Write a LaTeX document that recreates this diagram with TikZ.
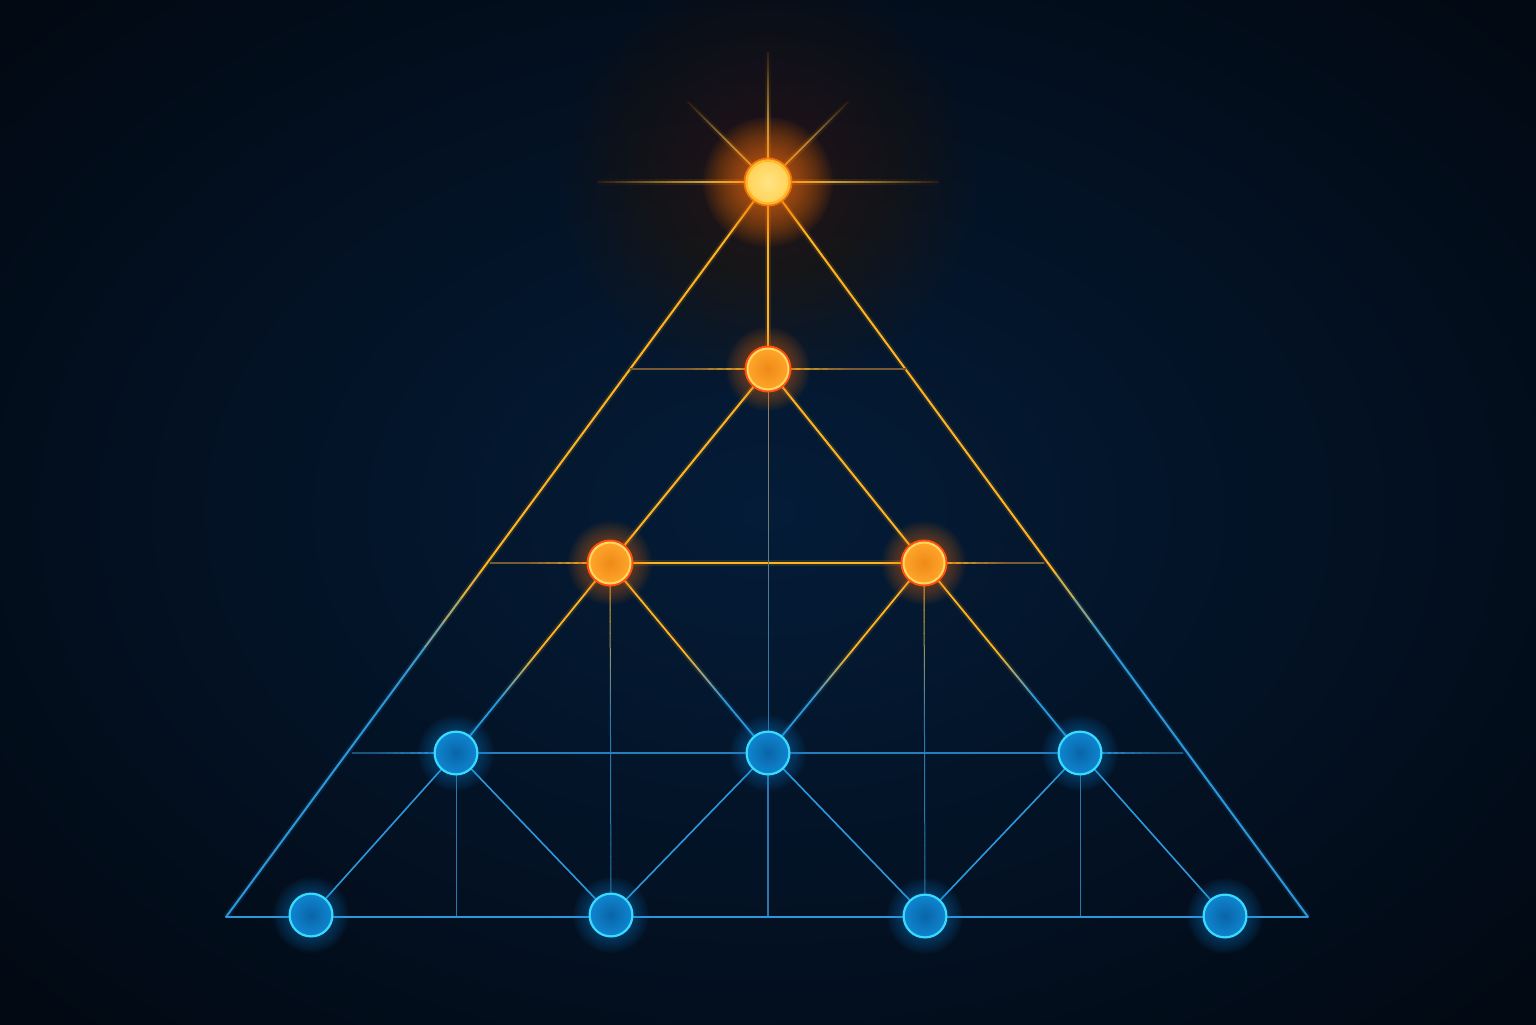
\documentclass[tikz,border=0pt]{standalone}
\usetikzlibrary{calc}
\definecolor{bgA}{HTML}{041C38}
\definecolor{bgB}{HTML}{020913}
\definecolor{warm}{HTML}{4E3018}
\definecolor{rayEnd}{HTML}{2A1A12}
\definecolor{cOr}{HTML}{FFB31F}
\definecolor{cYel}{HTML}{FFC640}
\definecolor{cBl}{HTML}{2C98DC}
\definecolor{cBlDim}{HTML}{2A78AC}
\definecolor{cDim}{HTML}{5E4A36}
\definecolor{cGray}{HTML}{9A8058}
\definecolor{bgLine}{HTML}{061A30}
\definecolor{rimBl}{HTML}{3ADAFF}
\definecolor{fillBlA}{HTML}{0A64A8}
\definecolor{fillBlB}{HTML}{0E86D0}
\definecolor{glowBl}{HTML}{1898F0}
\definecolor{fillOrA}{HTML}{EE8A18}
\definecolor{fillOrB}{HTML}{FFA52A}
\definecolor{rimOr}{HTML}{FFDA60}
\definecolor{ringOr}{HTML}{FF4E10}
\definecolor{glowOr}{HTML}{FF7A10}
\definecolor{fillTopA}{HTML}{FFE584}
\definecolor{fillTopB}{HTML}{FFD258}
\definecolor{rimTop}{HTML}{FFB828}

\pgfdeclarelayer{bglayer}
\pgfdeclarelayer{linelayer}
\pgfdeclarelayer{glowlayer}
\pgfsetlayers{bglayer,linelayer,glowlayer,main}

% gradient line: from, to, colour1, colour2, fraction start, fraction end, style
\newcommand\gl[7]{%
  \foreach \k in {0,...,29}{%
    \pgfmathsetmacro\ta{\k/30}%
    \pgfmathsetmacro\tb{(\k+1)/30}%
    \pgfmathtruncatemacro\pc{100*min(1,max(0,((\k+0.5)/30-#5)/(#6-#5)))}%
    \draw[line cap=round, #7, draw=#4!\pc!#3] ($(#1)!\ta!(#2)$) -- ($(#1)!\tb!(#2)$);
  }}
% glow: centre, colour, rmin, rmax, opacity, steps
\newcommand\glowat[6]{%
  \foreach \i in {1,...,#6}{%
    \pgfmathsetmacro\rr{#3+(#4-#3)*\i/#6}%
    \fill[#2, opacity=#5] (#1) circle (\rr);
  }}

\tikzset{
  bluenode/.style={circle, inner sep=0pt, minimum size=21.4pt, draw=rimBl, line width=1.1pt, inner color=fillBlA, outer color=fillBlB},
  ornode/.style={circle, inner sep=0pt, minimum size=20.5pt, draw=rimOr, line width=1pt, inner color=fillOrA, outer color=fillOrB},
  topnode/.style={circle, inner sep=0pt, minimum size=21.5pt, draw=rimTop, line width=1.2pt, inner color=fillTopA, outer color=fillTopB},
  orline/.style={cOr, line width=1pt},
  orglow/.style={cOr, line width=3pt, opacity=0.12, line cap=butt},
  blline/.style={cBl, line width=0.8pt},
  dimline/.style={cBlDim, line width=0.5pt},
  sideor/.style={cDim!85!cOr, line width=0.7pt},
  sidebl/.style={cBl!45!bgLine, line width=0.6pt},
}

\begin{document}
\begin{tikzpicture}[x=0.5pt,y=-0.5pt]
\useasboundingbox (0,0) rectangle (1536,1024);

% nodes
\node[topnode] (T) at (768,182) {};
\node[ornode] (A) at (768,369) {};
\node[ornode] (B1) at (610,563) {};
\node[ornode] (B2) at (924,563) {};
\node[bluenode] (C1) at (456,753) {};
\node[bluenode] (C2) at (768,753) {};
\node[bluenode] (C3) at (1080,753) {};
\node[bluenode] (D1) at (311,915) {};
\node[bluenode] (D2) at (611,915) {};
\node[bluenode] (D3) at (925,916) {};
\node[bluenode] (D4) at (1225,916) {};

\coordinate (L) at (226,917);
\coordinate (R) at (1308,917);
\coordinate (h2l) at (630,369);
\coordinate (h2r) at (906,369);
\coordinate (h3l) at (490,563);
\coordinate (h3r) at (1044,563);
\coordinate (h4l) at (352,753);
\coordinate (h4r) at (1183,753);
\coordinate (f456) at (456,917);
\coordinate (f768) at (768,917);
\coordinate (f1080) at (1080,917);
\coordinate (rU) at (768,52);
\coordinate (rL) at (598,182);
\coordinate (rR) at (938,182);
\coordinate (rUL) at (688,102);
\coordinate (rUR) at (848,102);

\begin{pgfonlayer}{bglayer}
  \fill[bgB] (0,0) rectangle (1536,1024);
  \shade[inner color=bgA, outer color=bgB] (-250,-200) rectangle (1786,1224);
  \glowat{T.center}{warm}{20}{210}{0.024}{30}
\end{pgfonlayer}

\begin{pgfonlayer}{linelayer}
  % star rays
  \foreach \p in {rU,rL,rR,rUL,rUR}{
    \gl{T.center}{\p}{cYel}{rayEnd}{0.15}{1}{line width=3pt, opacity=0.15, line cap=butt}
    \gl{T.center}{\p}{cYel}{rayEnd}{0.2}{1}{line width=0.8pt}
  }
  % outer triangle
  \gl{T.center}{L}{cOr}{cBl}{0.53}{0.66}{orglow}
  \gl{T.center}{R}{cOr}{cBl}{0.52}{0.63}{orglow}
  \gl{T.center}{L}{cOr}{cBl}{0.53}{0.66}{line width=1pt}
  \gl{T.center}{R}{cOr}{cBl}{0.52}{0.63}{line width=1pt}
  % upper orange part
  \draw[orglow] (T.center) -- (A.center);
  \draw[cOr, line width=0.8pt] (T.center) -- (A.center);
  \draw[orglow] (A.center) -- (B1.center) -- (B2.center) -- cycle;
  \draw[orline] (A.center) -- (B1.center);
  \draw[orline] (A.center) -- (B2.center);
  \draw[orline] (B1.center) -- (B2.center);
  % horizontal side lines
  \draw[sideor] (A.center) -- (h2l);
  \draw[sideor] (A.center) -- (h2r);
  \draw[sideor] (B1.center) -- (h3l);
  \draw[sideor] (B2.center) -- (h3r);
  \gl{A.center}{h2l}{cOr}{cDim!85!cOr}{0.1}{0.6}{line width=0.7pt}
  \gl{A.center}{h2r}{cOr}{cDim!85!cOr}{0.1}{0.6}{line width=0.7pt}
  \gl{B1.center}{h3l}{cOr}{cDim!85!cOr}{0.15}{0.7}{line width=0.7pt}
  \gl{B2.center}{h3r}{cOr}{cDim!85!cOr}{0.15}{0.7}{line width=0.7pt}
  % orange to blue diagonals
  \gl{B1.center}{C1.center}{cOr}{cBl}{0.47}{0.72}{orglow}
  \gl{B1.center}{C2.center}{cOr}{cBl}{0.47}{0.72}{orglow}
  \gl{B2.center}{C2.center}{cOr}{cBl}{0.47}{0.72}{orglow}
  \gl{B2.center}{C3.center}{cOr}{cBl}{0.47}{0.72}{orglow}
  \gl{B1.center}{C1.center}{cOr}{cBl}{0.47}{0.72}{line width=0.9pt}
  \gl{B1.center}{C2.center}{cOr}{cBl}{0.47}{0.72}{line width=0.9pt}
  \gl{B2.center}{C2.center}{cOr}{cBl}{0.47}{0.72}{line width=0.9pt}
  \gl{B2.center}{C3.center}{cOr}{cBl}{0.47}{0.72}{line width=0.9pt}
  % dim verticals
  \gl{A.center}{C2.center}{cGray}{cBlDim}{0.1}{0.85}{line width=0.5pt}
  \gl{B1.center}{D2.center}{cOr}{cBlDim}{0.04}{0.45}{line width=0.5pt}
  \gl{B2.center}{D3.center}{cOr}{cBlDim}{0.04}{0.45}{line width=0.5pt}
  \draw[dimline] (C1.center) -- (f456);
  \draw[cBlDim, line width=0.6pt] (C2.center) -- (f768);
  \draw[dimline] (C3.center) -- (f1080);
  % blue horizontals
  \draw[cBl!80!bgLine, line width=0.7pt] (C1.center) -- (C2.center);
  \draw[cBl!80!bgLine, line width=0.7pt] (C2.center) -- (C3.center);
  \draw[sidebl] (C1.center) -- (h4l);
  \draw[sidebl] (C3.center) -- (h4r);
  \gl{C1.center}{h4l}{cBl}{cBl!45!bgLine}{0.15}{0.8}{line width=0.6pt}
  \gl{C3.center}{h4r}{cBl}{cBl!45!bgLine}{0.15}{0.8}{line width=0.6pt}
  % blue diagonals
  \draw[blline] (C1.center) -- (D1.center);
  \draw[blline] (C1.center) -- (D2.center);
  \draw[blline] (C2.center) -- (D2.center);
  \draw[blline] (C2.center) -- (D3.center);
  \draw[blline] (C3.center) -- (D3.center);
  \draw[blline] (C3.center) -- (D4.center);
  % base
  \draw[blline] (L) -- (R);
\end{pgfonlayer}

\begin{pgfonlayer}{glowlayer}
  \glowat{T.center}{glowOr}{22}{65}{0.04}{22}
  \foreach \n in {A,B1,B2}{
    \glowat{\n.center}{glowOr}{22}{42}{0.035}{12}
    \fill[ringOr] (\n.center) circle (23.5);
  }
  \foreach \n in {C1,C2,C3,D1,D2,D3,D4}{
    \glowat{\n.center}{glowBl}{21}{38}{0.03}{12}
  }
  \fill[glowOr, opacity=0.8] (T.center) circle (24.5);
\end{pgfonlayer}
\end{tikzpicture}
\end{document}
